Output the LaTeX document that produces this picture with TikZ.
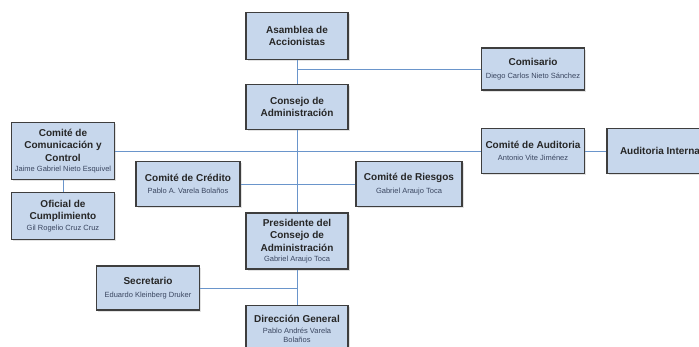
\documentclass[tikz,border=0pt]{standalone}
\usepackage{fontspec}
\setmainfont{Liberation Sans}
\usetikzlibrary{shadows}
\definecolor{cajafondo}{HTML}{C7D7EC}
\definecolor{cajaborde}{HTML}{3E3E3E}
\definecolor{linea}{HTML}{6A95CB}
\definecolor{nombrecol}{HTML}{3A4660}
\newcommand\nombre{\normalfont\fontsize{7.5}{9}\selectfont\color{nombrecol}}
\begin{document}
\begin{tikzpicture}[x=1pt,y=-1pt,
   puesto/.style={draw=cajaborde,line width=1.3pt,fill=cajafondo,align=center,
     inner sep=1pt,minimum width=102pt,minimum height=45pt,
     font=\bfseries\fontsize{10}{12.5}\selectfont,text=black!85,
     drop shadow={shadow xshift=1.5pt,shadow yshift=-1.5pt,fill=black!22}},
   enlace/.style={draw=linea,line width=0.7pt}]
   \useasboundingbox (0,0) rectangle (699,346);
   \clip (0,0) rectangle (699,346);
   \fill[white] (0,0) rectangle (699,346);
   \node[puesto,minimum height=47pt] (asamblea) at (297,36) {Asamblea de\\Accionistas};
   \node[puesto,minimum width=103pt,minimum height=42pt] (comisario) at (533,69)
     {Comisario\\{\nombre Diego Carlos Nieto Sánchez}};
   \node[puesto] (consejo) at (297,107) {Consejo de\\Administración};
   \node[puesto,minimum width=103pt,minimum height=57pt] (comcom) at (63,151)
     {Comité de\\Comunicación y\\Control\\[-2pt]{\nombre Jaime Gabriel Nieto Esquivel}};
   \node[puesto,minimum width=103pt,minimum height=47pt] (oficial) at (63,216)
     {Oficial de\\Cumplimiento\\[-2pt]{\nombre Gil Rogelio Cruz Cruz}};
   \node[puesto,minimum width=104pt] (credito) at (188,184)
     {Comité de Crédito\\{\nombre Pablo A. Varela Bolaños}};
   \node[puesto,minimum width=106pt] (riesgos) at (409,184)
     {Comité de Riesgos\\{\nombre Gabriel Araujo Toca}};
   \node[puesto,minimum width=103pt] (auditoria) at (533,151)
     {Comité de Auditoria\\{\nombre Antonio Vite Jiménez}};
   \node[puesto,minimum width=106pt] (audint) at (660,151) {Auditoria Interna};
   \node[puesto,minimum height=56pt] (presidente) at (297,241)
     {Presidente del\\Consejo de\\Administración\\[-2pt]{\nombre Gabriel Araujo Toca}};
   \node[puesto,minimum width=103pt,minimum height=44pt] (secretario) at (148,288)
     {Secretario\\{\nombre Eduardo Kleinberg Druker}};
   \node[puesto,minimum height=47pt] (direccion) at (297,329)
     {Dirección General\\[-2pt]{\nombre Pablo Andrés Varela}\\[-3pt]{\nombre Bolaños}};
   \draw[enlace] (asamblea.south) -- (consejo.north);
   \draw[enlace] (consejo.south) -- (presidente.north);
   \draw[enlace] (presidente.south) -- (direccion.north);
   \draw[enlace] (comisario.west) -- (comisario.west -| asamblea.south);
   \draw[enlace] (comcom.east) -- (auditoria.west);
   \draw[enlace] (auditoria.east) -- (audint.west);
   \draw[enlace] (credito.east) -- (riesgos.west);
   \draw[enlace] (comcom.south) -- (oficial.north);
   \draw[enlace] (secretario.east) -- (secretario.east -| presidente.south);
  \end{tikzpicture}
\end{document}
